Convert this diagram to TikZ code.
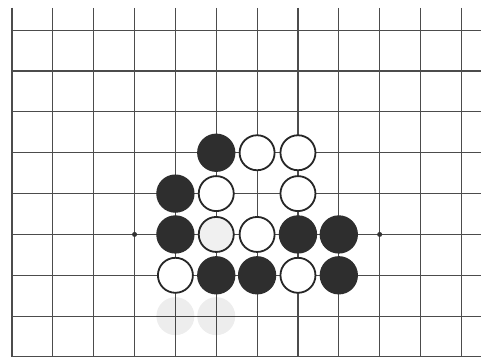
\documentclass[tikz,border=0pt]{standalone}
\begin{document}
\begin{tikzpicture}[x=1pt,y=-1pt,
  gridline/.style={line width=1.2pt,draw=black!70},
  bstone/.style={circle,fill=black!82,draw=black!82,line width=1.3pt,minimum size=37pt,inner sep=0pt},
  wstone/.style={circle,fill=white,draw=black!85,line width=1.8pt,minimum size=35pt,inner sep=0pt},
  gstone/.style={circle,fill=black,fill opacity=0.07,draw=none,minimum size=38pt,inner sep=0pt},
  hoshi/.style={circle,fill=black!80,inner sep=0pt,minimum size=5pt}]
\useasboundingbox (0,0) rectangle (481,358);
\fill[white] (0,0) rectangle (481,358);
\def\gx#1{12+40.85*#1}
\def\gy#1{357-40.85*#1}
% grid
\foreach \c in {0,...,11} \draw[gridline] ({\gx{\c}},8) -- ({\gx{\c}},357);
\foreach \r in {1,...,8} \draw[gridline] (12,{\gy{\r}}) -- (481,{\gy{\r}});
\draw[gridline,line width=1.5pt] (12,356.5) -- (481,356.5);
\draw[gridline,line width=1.5pt] (12,8) -- (12,357);
% ghost stones (faint, lines show through)
\node[gstone] (g1) at ({\gx{4}},{\gy{1}}) {};
\node[gstone] (g2) at ({\gx{5}},{\gy{1}}) {};
% hoshi
\node[hoshi] (h1) at ({\gx{3}},{\gy{3}}) {};
\node[hoshi] (h2) at ({\gx{9}},{\gy{3}}) {};
% row 5
\node[bstone] (b55) at ({\gx{5}},{\gy{5}}) {};
\node[wstone] (w65) at ({\gx{6}},{\gy{5}}) {};
\node[wstone] (w75) at ({\gx{7}},{\gy{5}}) {};
% row 4
\node[bstone] (b44) at ({\gx{4}},{\gy{4}}) {};
\node[wstone] (w54) at ({\gx{5}},{\gy{4}}) {};
\node[wstone] (w74) at ({\gx{7}},{\gy{4}}) {};
% row 3
\node[bstone] (b43) at ({\gx{4}},{\gy{3}}) {};
\node[wstone,fill=black!6] (w53) at ({\gx{5}},{\gy{3}}) {};
\node[wstone] (w63) at ({\gx{6}},{\gy{3}}) {};
\node[bstone] (b73) at ({\gx{7}},{\gy{3}}) {};
\node[bstone] (b83) at ({\gx{8}},{\gy{3}}) {};
% row 2
\node[wstone] (w42) at ({\gx{4}},{\gy{2}}) {};
\node[bstone] (b52) at ({\gx{5}},{\gy{2}}) {};
\node[bstone] (b62) at ({\gx{6}},{\gy{2}}) {};
\node[wstone] (w72) at ({\gx{7}},{\gy{2}}) {};
\node[bstone] (b82) at ({\gx{8}},{\gy{2}}) {};
\end{tikzpicture}
\end{document}
